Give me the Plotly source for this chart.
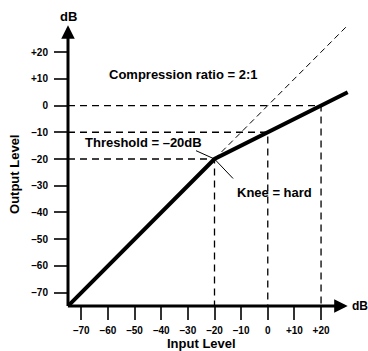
import plotly.graph_objects as go

# ---- data ----
threshold_db = -20
ratio = 2
axis_min = -75
axis_max = 30
input_curve = [-75, -20, 30]
output_curve = [-75, -20, 5]
unity_in = [-20, 30]
unity_out = [-20, 30]
guide_in = [-20, 0, 20]
guide_out = [-20, -10, 0]
tick_vals = [-70, -60, -50, -40, -30, -20, -10, 0, 10, 20]
tick_text = ["–70", "–60", "–50", "–40", "–30", "–20", "–10", "0", "+10", "+20"]

FONT = "Liberation Sans, Arial, Helvetica, sans-serif"
fig = go.Figure()

# guide dashed L-lines
for gi, go_ in zip(guide_in, guide_out):
    fig.add_trace(go.Scatter(
        x=[axis_min, gi, gi], y=[go_, go_, axis_min], mode="lines",
        line=dict(color="black", width=1.3, dash="7px,5px"),
        hoverinfo="skip", showlegend=False))

# unity dashed diagonal
fig.add_trace(go.Scatter(x=unity_in, y=unity_out, mode="lines",
                         line=dict(color="black", width=1, dash="6px,4px"),
                         hoverinfo="skip", showlegend=False))

# compression curve
fig.add_trace(go.Scatter(x=input_curve, y=output_curve, mode="lines",
                         line=dict(color="black", width=4),
                         hoverinfo="skip", showlegend=False))

ann = []
# axes arrows
ann.append(dict(x=axis_max, y=axis_min, ax=axis_min - 0.6, ay=axis_min,
                xref="x", yref="y", axref="x", ayref="y", text="",
                showarrow=True, arrowhead=2, arrowwidth=3, arrowsize=0.9,
                arrowcolor="black"))
ann.append(dict(x=axis_min, y=axis_max, ax=axis_min, ay=axis_min - 0.6,
                xref="x", yref="y", axref="x", ayref="y", text="",
                showarrow=True, arrowhead=2, arrowwidth=3, arrowsize=0.9,
                arrowcolor="black"))
# leader lines at knee
ann.append(dict(x=threshold_db, y=threshold_db, ax=-20, ay=-9, text="",
                showarrow=True, arrowhead=0, arrowwidth=1, arrowcolor="black"))
ann.append(dict(x=threshold_db, y=threshold_db, ax=20, ay=21, text="",
                showarrow=True, arrowhead=0, arrowwidth=1, arrowcolor="black"))

def txt(t, x, y, size=13, xanchor="center", angle=0, ref="x"):
    return dict(text=t, x=x, y=y,
                xref="x" if ref == "x" else "paper",
                yref="y" if ref == "x" else "paper",
                showarrow=False,
                xanchor=xanchor, yanchor="middle", textangle=angle,
                font=dict(family=FONT, size=size, color="black", weight="bold"))

ann.append(txt("Compression ratio = 2:1", -31.8, 11.5))
ann.append(txt("Threshold = –20dB", -69.4, -14, xanchor="left"))
ann.append(txt("Knee = hard", -12.4, -32.4, xanchor="left"))
ann.append(txt("dB", -75, 33.3))
ann.append(txt("dB", 30.9, -75, size=12, xanchor="left"))
ann.append(txt("Input Level", 0.457, -0.129, ref="paper"))
ann.append(txt("Output Level", -0.181, 0.449, angle=-90, ref="paper"))

axis_common = dict(
    range=[-75, 35], tickvals=tick_vals, ticktext=tick_text,
    ticks="outside", ticklen=13, tickwidth=2, tickcolor="#333",
    showgrid=False, zeroline=False, showline=False,
    tickfont=dict(family=FONT, size=10, color="black", weight="bold"),
    fixedrange=True,
)

fig.update_layout(
    width=368, height=351,
    margin=dict(l=68, r=7, t=12, b=45),
    paper_bgcolor="white", plot_bgcolor="white",
    xaxis=dict(**axis_common, ticklabelstandoff=2),
    yaxis=dict(**axis_common, ticklabelstandoff=4),
    annotations=ann,
    showlegend=False,
)

fig.write_html(
    "out.html",
    config={"displayModeBar": False, "staticPlot": True},
    post_script="document.body.style.margin='0';document.body.style.overflow='hidden';",
)
